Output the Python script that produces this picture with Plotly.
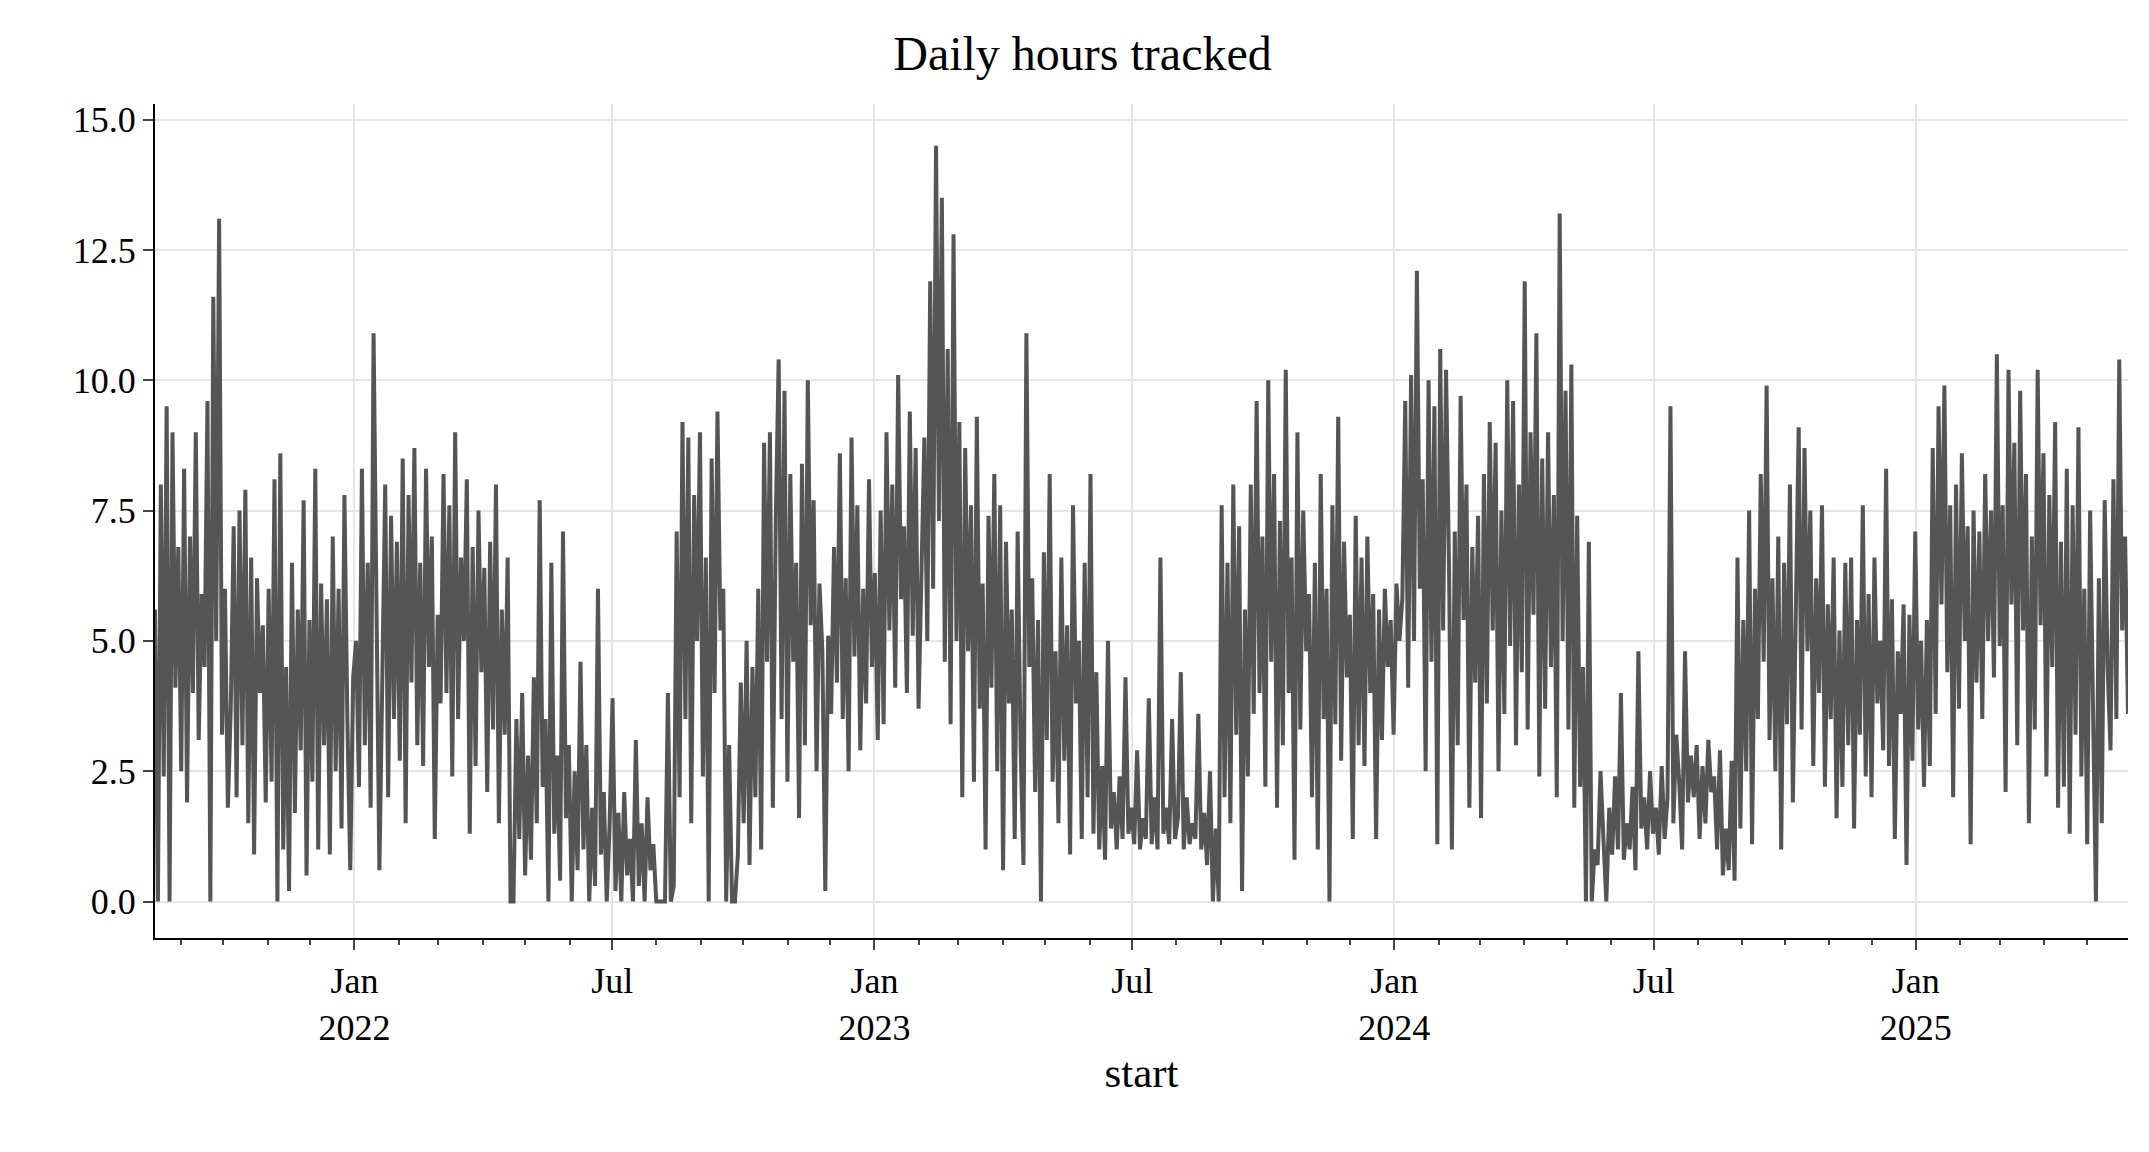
import pandas as pd
import plotly.graph_objects as go

hours = [
5.6,0,8.0,2.4,9.5,0,9.0,4.1,6.8,
2.5,8.3,1.9,7.0,4.0,9.0,3.1,5.9,4.5,9.6,0,11.6,5.0,13.1,3.2,
6.0,1.8,3.7,7.2,2.0,7.5,3.0,7.9,1.5,6.6,0.9,6.2,4.0,5.3,1.9,
6.0,2.3,8.1,0,8.6,1.0,4.5,0.2,6.5,1.7,5.6,2.9,7.7,0.5,5.4,
2.3,8.3,1.0,6.1,3.0,5.8,0.9,7.0,2.5,6.0,1.4,7.8,3.5,0.6,4.3,
5.0,2.2,8.3,3.0,6.5,1.8,10.9,5.7,0.6,4.3,8.0,2.0,7.4,3.5,6.9,
2.7,8.5,1.5,7.8,4.2,8.7,3.0,6.5,2.6,8.3,4.5,7.0,1.2,5.5,3.8,
8.2,4.0,7.6,2.4,9.0,3.5,6.6,5.0,8.1,1.3,6.8,2.6,7.5,4.4,6.4,
2.1,6.9,3.3,8.0,1.5,5.6,3.2,6.6,0.0,0.0,3.5,1.2,4.0,0.5,2.8,
0.8,4.3,1.5,7.7,2.2,3.5,0.0,6.5,1.3,2.8,0.4,7.1,1.6,3.0,0.0,
2.5,0.6,4.6,1.0,3.0,0.0,1.8,0.3,6.0,0.9,2.1,0.0,1.5,3.9,0.2,
1.7,0.0,2.1,0.5,1.2,0.0,3.1,0.3,1.5,0.0,2.0,0.6,1.1,0.0,0.0,
0.0,0.0,4.0,0.0,0.3,7.1,2.0,9.2,3.5,8.9,1.5,7.8,5.0,9.0,2.4,
6.6,0.0,8.5,4.0,9.4,5.2,6.0,0.0,3.0,0.0,0.0,0.9,4.2,1.5,5.0,
0.7,4.5,2.0,6.0,1.0,8.8,4.6,9.0,1.8,7.3,10.4,3.5,9.8,2.3,8.2,
4.6,6.5,1.6,8.4,3.0,10.0,5.3,7.7,2.5,6.1,4.8,0.2,5.1,3.6,6.8,
4.2,8.6,3.5,6.2,2.5,8.9,4.7,7.6,2.9,6.0,3.8,8.1,4.5,6.3,3.1,
7.5,3.4,9.0,5.2,8.0,4.1,10.1,5.8,7.2,4.0,9.4,5.1,8.7,3.7,6.7,
8.9,5.0,11.9,6.0,14.5,7.3,13.5,4.6,10.6,3.4,12.8,5.0,9.2,2.0,8.7,
4.8,7.6,2.3,9.3,3.7,6.1,1.0,7.4,4.1,8.2,2.5,7.6,0.6,6.9,3.8,
5.6,1.2,7.1,3.0,0.7,10.9,4.5,6.2,2.1,5.4,0.0,6.7,3.1,8.2,2.3,
4.8,1.5,6.6,2.7,5.3,0.9,7.6,3.8,5.0,1.2,6.5,2.0,8.2,1.3,4.4,
1.0,2.6,0.8,5.0,1.4,2.1,1.0,2.4,1.2,4.3,1.3,1.8,1.1,2.9,1.0,
1.6,1.2,3.9,1.1,2.0,1.0,6.6,1.3,1.8,1.1,3.5,1.2,1.6,4.4,1.0,
2.0,1.1,1.5,1.2,3.6,1.0,1.7,0.7,2.5,0.0,1.4,0.0,7.6,2.0,6.5,
1.5,8.0,3.2,7.2,0.2,5.6,2.4,8.0,3.6,9.6,4.0,7.0,2.2,10.0,4.6,
8.2,1.8,7.3,3.0,10.2,4.0,6.6,0.8,9.0,3.3,7.5,4.8,5.9,2.0,6.5,
1.0,8.2,3.5,6.0,0.0,7.6,3.4,9.3,2.7,6.9,4.3,5.5,1.2,7.4,3.0,
6.6,2.6,7.0,4.0,5.9,1.2,5.6,3.1,6.0,4.5,5.4,3.2,6.1,5.0,5.8,
9.6,4.1,10.1,5.0,12.1,6.0,8.1,2.5,10.0,4.6,9.5,1.1,10.6,5.2,10.2,
6.5,1.0,7.1,3.0,9.7,5.4,8.0,1.8,6.8,4.2,7.4,1.6,8.2,3.8,9.2,
5.2,8.8,2.5,7.5,3.6,10.0,4.9,9.6,3.0,8.0,4.4,11.9,3.3,9.0,5.5,
10.9,2.4,8.5,3.7,9.0,4.5,7.8,2.0,13.2,5.0,9.8,3.3,10.3,1.8,7.4,
2.2,4.5,0.0,6.9,0.0,1.0,0.7,2.5,1.2,0.0,1.8,0.9,2.4,1.0,4.0,
0.8,1.5,1.0,2.2,0.6,4.8,1.4,2.0,1.0,2.5,1.3,1.8,0.9,2.6,1.2,
2.0,9.5,1.5,3.2,2.3,1.0,4.8,1.9,2.8,2.0,3.0,1.2,2.6,1.5,3.1,
2.1,2.4,1.0,2.9,0.5,1.4,0.6,2.7,0.4,6.6,1.4,5.4,2.5,7.5,1.1,
6.0,3.5,8.2,4.6,9.9,3.1,6.2,2.5,7.0,1.0,6.5,3.4,8.0,1.9,5.5,
9.1,3.3,8.7,4.8,7.5,2.6,6.2,4.0,7.6,2.2,5.7,3.5,6.6,1.6,5.2,
2.2,6.5,3.0,6.6,1.4,5.4,3.2,7.6,2.4,5.9,2.0,6.6,3.8,5.0,2.9,
8.3,2.6,5.8,1.2,4.8,3.6,5.7,0.7,5.5,2.7,7.1,3.3,5.0,2.2,5.4,
2.6,8.7,3.6,9.5,5.7,9.9,4.4,7.6,2.0,8.0,3.7,8.6,5.0,7.2,1.1,
7.5,4.2,7.1,3.5,8.2,5.0,7.5,4.3,10.5,4.9,7.6,2.1,10.2,5.7,8.8,
3.0,9.8,5.2,8.2,1.5,7.0,3.3,10.2,5.3,8.6,2.4,7.8,4.5,9.2,1.8,
6.9,2.2,8.3,1.3,7.6,3.2,9.1,2.4,6.0,1.1,7.5,3.7,0.0,6.2,1.5,7.7,4.5,2.9,8.1,3.5,10.4,5.2,7.0,3.6,
]
start_date = "2021-08-14"
end_date = "2025-05-30"
dates = pd.date_range(start_date, end_date, periods=len(hours))

tick_vals = ["2022-01-01", "2022-07-01", "2023-01-01", "2023-07-01",
             "2024-01-01", "2024-07-01", "2025-01-01"]
tick_text = ["Jan<br>2022", "Jul", "Jan<br>2023", "Jul",
             "Jan<br>2024", "Jul", "Jan<br>2025"]

font = "Liberation Serif, DejaVu Serif, serif"
fig = go.Figure(go.Scatter(x=dates, y=hours, mode="lines",
                           line=dict(color="#555555", width=4)))
fig.update_layout(
    width=2149, height=1152, plot_bgcolor="white", paper_bgcolor="white",
    margin=dict(l=147, r=29, t=96, b=222),
    font=dict(family=font, size=36, color="black"),
    title=dict(text="Daily hours tracked", x=0.5, xanchor="center", y=0.975, font=dict(size=48)),
    showlegend=False,
)
fig.update_xaxes(
    range=[start_date, end_date], tickvals=tick_vals, ticktext=tick_text,
    showgrid=True, gridcolor="#e6e6e6", gridwidth=1.5,
    showline=True, linecolor="black", linewidth=2, ticks="outside", ticklen=10, tickwidth=2,
    minor=dict(dtick="M1", tick0="2021-09-01", ticks="outside", ticklen=5, tickwidth=1.5, showgrid=False),
    title=dict(text="start", standoff=10), zeroline=False,
)
fig.update_yaxes(
    range=[-0.7, 15.3], tickvals=[0, 2.5, 5, 7.5, 10, 12.5, 15], tickformat=".1f",
    showgrid=True, gridcolor="#e6e6e6", gridwidth=1.5,
    showline=True, linecolor="black", linewidth=2, ticks="outside", ticklen=10, tickwidth=2,
    zeroline=False,
)
fig.write_html("out.html")
